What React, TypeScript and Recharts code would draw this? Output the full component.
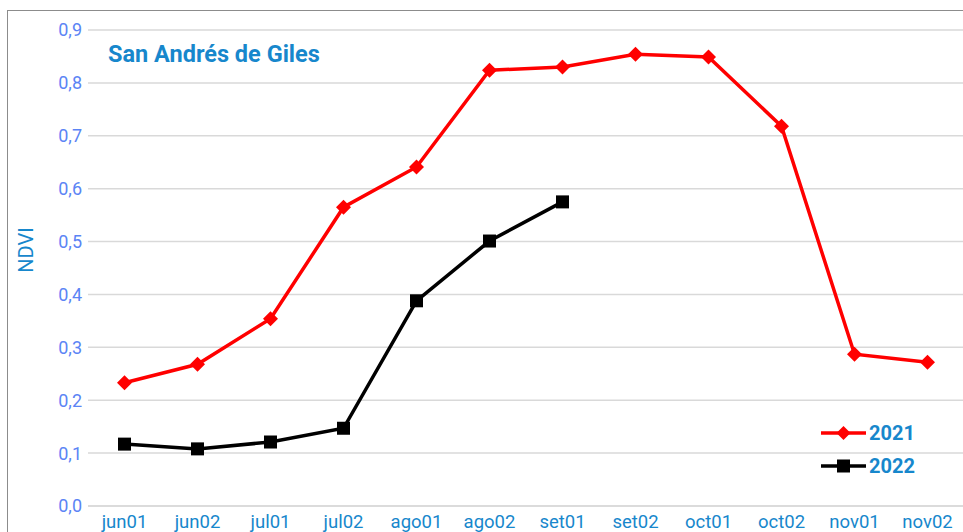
import React from 'react';
import { LineChart, Line, XAxis, YAxis, CartesianGrid } from 'recharts';

const categories = ['jun01', 'jun02', 'jul01', 'jul02', 'ago01', 'ago02', 'set01', 'set02', 'oct01', 'oct02', 'nov01', 'nov02'];
const values2021 = [0.233, 0.268, 0.354, 0.565, 0.641, 0.824, 0.830, 0.854, 0.849, 0.718, 0.287, 0.272];
const values2022: (number | null)[] = [0.117, 0.108, 0.121, 0.147, 0.388, 0.501, 0.575, null, null, null, null, null];
const yTicks = [0, 0.1, 0.2, 0.3, 0.4, 0.5, 0.6, 0.7, 0.8, 0.9];

const data = categories.map((c, i) => ({ cat: c, y2021: values2021[i], y2022: values2022[i] }));

const FONT = 'Roboto, "Noto Sans", sans-serif';
const BLUE = '#1787cc';

const Diamond = (props: any) => {
  const { cx, cy } = props;
  if (cx == null || cy == null) return null;
  const r = 7.5;
  return <polygon key={`d${cx}`} points={`${cx},${cy - r} ${cx + r},${cy} ${cx},${cy + r} ${cx - r},${cy}`} fill="#ff0000" />;
};
const Square = (props: any) => {
  const { cx, cy, value } = props;
  if (cx == null || cy == null || value == null) return null;
  const s = 6.5;
  return <rect key={`s${cx}`} x={cx - s} y={cy - s} width={2 * s} height={2 * s} fill="#000000" />;
};

export default function App() {
  return (
    <div style={{ position: 'absolute', left: 0, top: 0, width: 963, height: 532, background: '#fff', overflow: 'hidden', fontFamily: FONT }}>
      <div style={{ position: 'absolute', left: 7, top: 10, width: 1000, height: 600, border: '1px solid #8c8c8c', boxSizing: 'border-box' }} />
      <div style={{ position: 'absolute', left: 0, top: 0 }}>
        <LineChart width={964} height={532} data={data} margin={{ top: 30, right: 0, bottom: 0, left: 0 }}>
          <CartesianGrid vertical={false} stroke="#d9d9d9" strokeWidth={1.5} />
          <XAxis
            dataKey="cat"
            height={26}
            tickLine={false}
            axisLine={{ stroke: '#d9d9d9', strokeWidth: 1.5 }}
            tick={{ fill: BLUE, fontSize: 18.5, fontFamily: FONT }}
            tickMargin={3}
            interval={0}
            padding={{ left: 36.5, right: 36.5 }}
          />
          <YAxis
            width={88}
            domain={[0, 0.9]}
            ticks={yTicks}
            axisLine={false}
            tickLine={false}
            tickSize={0}
            tickFormatter={(v: number) => v.toFixed(1).replace('.', ',')}
            tick={{ fill: '#5b84f5', fontSize: 18, fontFamily: FONT }}
            tickMargin={6}
          />
          <Line type="linear" dataKey="y2021" stroke="#ff0000" strokeWidth={3.5} dot={<Diamond />} activeDot={false} isAnimationActive={false} />
          <Line type="linear" dataKey="y2022" stroke="#000000" strokeWidth={3.5} dot={<Square />} activeDot={false} isAnimationActive={false} connectNulls={false} />
        </LineChart>
      </div>
      <div style={{ position: 'absolute', left: 108, top: 40, color: BLUE, fontWeight: 700, fontSize: 23.5, fontFamily: FONT, whiteSpace: 'nowrap' }}>
        San Andrés de Giles
      </div>
      <div style={{ position: 'absolute', left: 26, top: 250, transform: 'translate(-50%, -50%) rotate(-90deg)', color: BLUE, fontSize: 20, fontFamily: FONT, whiteSpace: 'nowrap' }}>
        NDVI
      </div>
      <svg style={{ position: 'absolute', left: 818, top: 420 }} width={110} height={60}>
        <line x1={3} y1={13} x2={48} y2={13} stroke="#ff0000" strokeWidth={3.5} />
        <polygon points="25.5,6 32.5,13 25.5,20 18.5,13" fill="#ff0000" />
        <text x={51} y={20} fill={BLUE} fontSize={20} fontWeight={700} fontFamily={FONT}>2021</text>
        <line x1={3} y1={46} x2={48} y2={46} stroke="#000000" strokeWidth={3.5} />
        <rect x={19} y={39.5} width={13} height={13} fill="#000000" />
        <text x={51} y={53} fill={BLUE} fontSize={20} fontWeight={700} fontFamily={FONT}>2022</text>
      </svg>
    </div>
  );
}
